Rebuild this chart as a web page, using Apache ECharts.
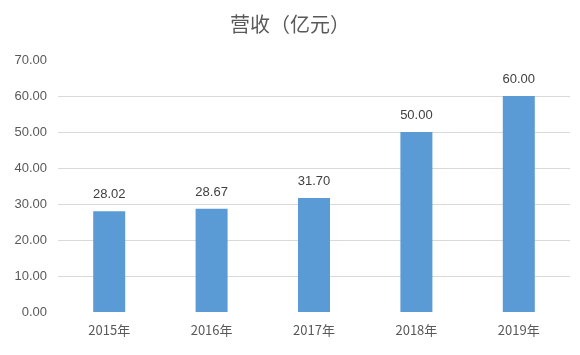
<!DOCTYPE html>
<html><head><meta charset="utf-8">
<script src="https://cdn.jsdelivr.net/npm/echarts@6/dist/echarts.min.js"></script>
<style>html,body{margin:0;padding:0;background:#fff}#c{width:580px;height:355px}</style>
</head><body><div id="c"></div>
<script>
const title = '营收（亿元）';
const categories = ['2015年','2016年','2017年','2018年','2019年'];
const values = [28.02, 28.67, 31.70, 50.00, 60.00];
const yMin = 0, yMax = 70, yInterval = 10;

const chart = echarts.init(document.getElementById('c'), null, {renderer:'canvas'});
chart.setOption({
  animation:false,
  title:{text:title,left:'center',top:9,textStyle:{fontFamily:'Noto Sans CJK SC',fontSize:20,fontWeight:'normal',color:'#595959'}},
  grid:{left:58,right:10,top:60,bottom:43,containLabel:false},
  xAxis:{type:'category',data:categories,axisLine:{show:false},axisTick:{show:false},
    axisLabel:{margin:12,fontSize:13,color:'#595959',fontFamily:'Noto Sans CJK SC'}},
  yAxis:{type:'value',min:yMin,max:yMax,interval:yInterval,axisLine:{show:false},axisTick:{show:false},
    axisLabel:{margin:11,fontSize:13,color:'#595959',fontFamily:'Liberation Sans',formatter:v=>v.toFixed(2)},
    splitLine:{showMinLine:false,showMaxLine:false,lineStyle:{color:'#d9d9d9',width:1}}},
  series:[{type:'bar',data:values,barWidth:32,itemStyle:{color:'#5b9bd5'},
    label:{show:true,position:'top',distance:10,fontSize:13,color:'#404040',fontFamily:'Liberation Sans',formatter:p=>p.value.toFixed(2)}}]
});
</script></body></html>
